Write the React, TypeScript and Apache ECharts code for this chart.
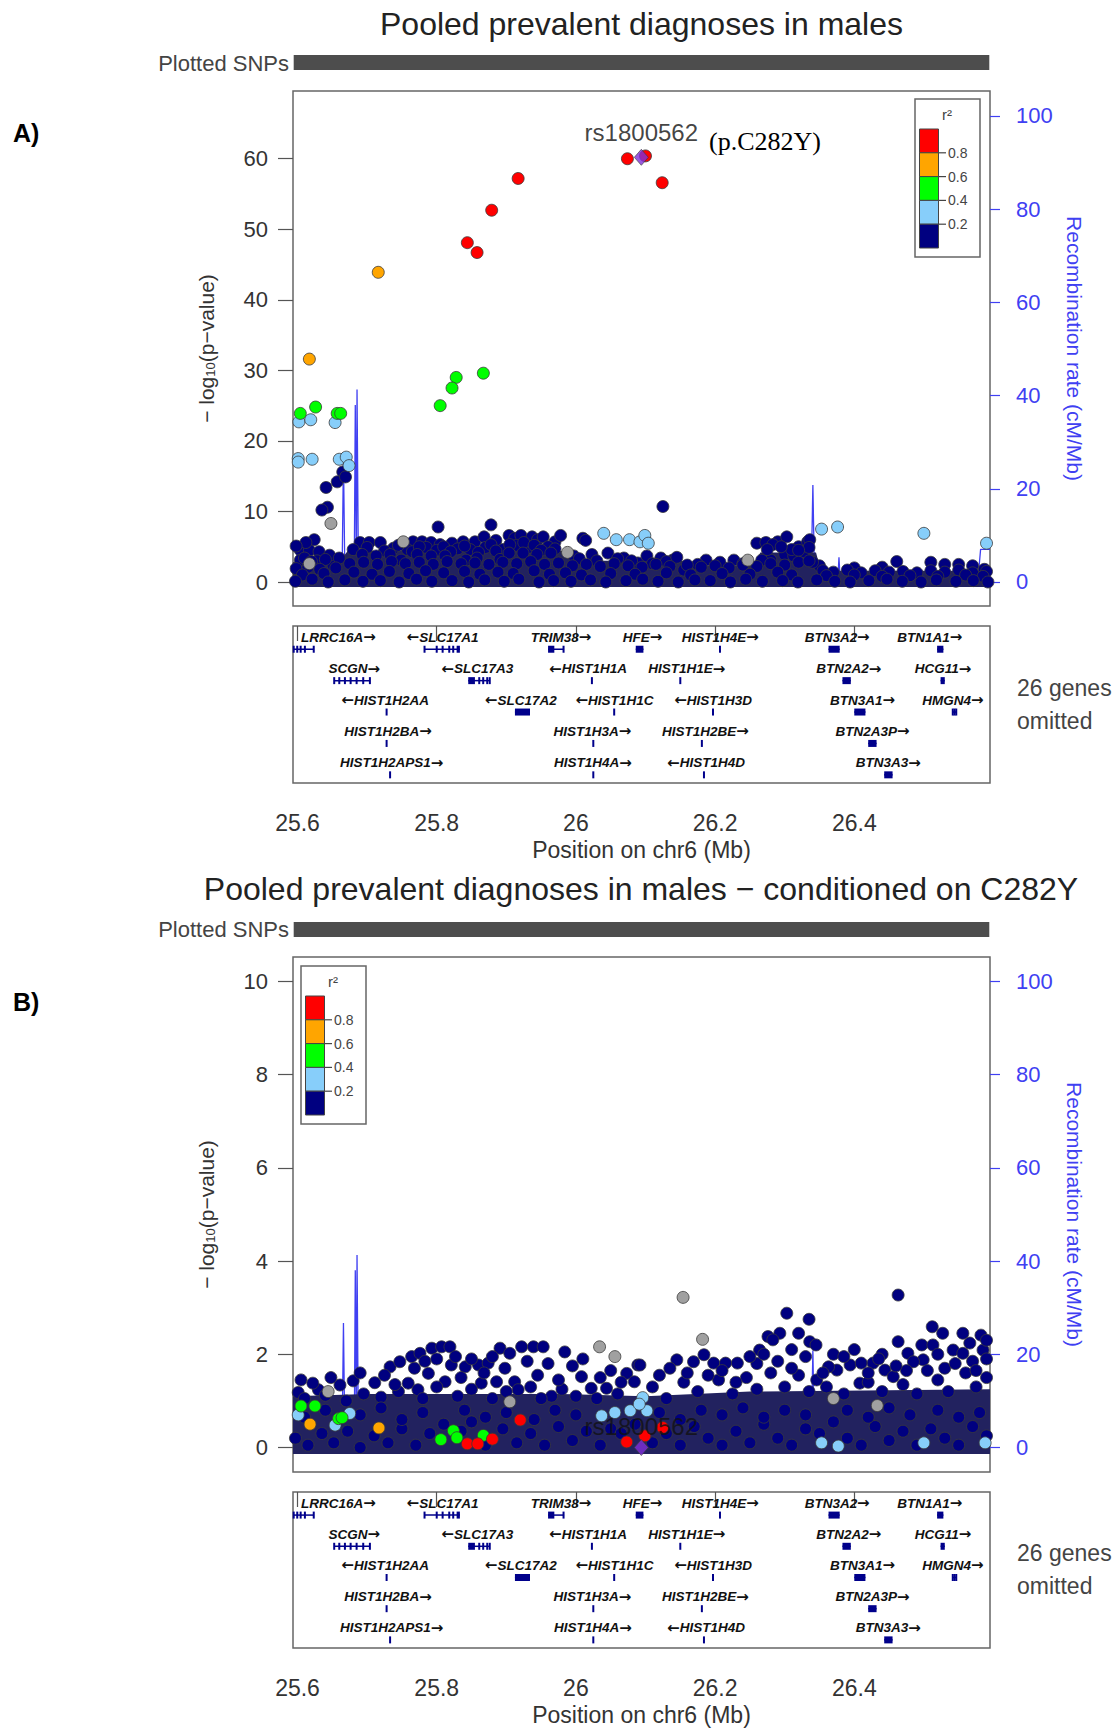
import React, { useEffect, useRef } from "react";
import * as echarts from "echarts";

// ---------------- region, ticks, legend ----------------
const regionStart = 25.5935;
const regionEnd = 26.595;
const snpRange = [25.5945, 26.594];
const xTicks = [25.6, 25.8, 26, 26.2, 26.4];
const yTicksA = [0, 10, 20, 30, 40, 50, 60];
const yTicksB = [0, 2, 4, 6, 8, 10];
const recombTicks = [0, 20, 40, 60, 80, 100];
const legendLabels = ["0.8", "0.6", "0.4", "0.2"];
const ldColors = ["#FF0000", "#FFA500", "#00FF00", "#87CEFA", "#000080"];
const leadName = "rs1800562";

// ---------------- recombination rate (cM/Mb) ----------------
const recombPos = [25.5935, 25.6, 25.612, 25.625, 25.64, 25.6455, 25.647, 25.6485, 25.658, 25.664, 25.666, 25.668, 25.676, 25.6815, 25.683, 25.6845, 25.6855, 25.6875, 25.7, 25.74, 25.78, 25.8, 25.83, 25.86, 25.9, 25.95, 26.0, 26.05, 26.1, 26.15, 26.2, 26.25, 26.27, 26.3, 26.33, 26.3385, 26.3405, 26.3425, 26.35, 26.37, 26.3765, 26.378, 26.3795, 26.42, 26.46, 26.5, 26.55, 26.578, 26.5815, 26.595];
const recombRate = [0.6, 0.8, 1.2, 0.8, 1.0, 1.2, 4.3, 1.0, 1.1, 1.5, 26.7, 1.6, 0.9, 1.8, 38.0, 2.0, 41.3, 1.5, 0.7, 0.5, 0.6, 0.4, 0.5, 0.8, 0.4, 0.3, 0.4, 0.6, 0.3, 0.5, 0.4, 0.6, 1.4, 0.8, 1.5, 4.5, 20.8, 3.8, 1.2, 0.8, 1.0, 5.3, 0.9, 0.5, 0.8, 0.5, 0.7, 1.1, 7.0, 7.0];

// ---------------- Panel A: -log10(p) ----------------
const aLead = [[26.094, 60.2]];
const aRed = [[26.074, 60.0], [26.1, 60.4], [26.124, 56.6], [25.917, 57.2], [25.879, 52.7], [25.844, 48.1], [25.858, 46.7]];
const aOrange = [[25.716, 43.9], [25.617, 31.6]];
const aGreen = [[25.867, 29.6], [25.828, 29.0], [25.822, 27.5], [25.805, 25.0], [25.604, 23.9], [25.626, 24.8], [25.657, 23.9], [25.662, 23.9]];
const aLightBlue = [[25.602, 22.7], [25.619, 23.0], [25.654, 22.6], [25.601, 17.5], [25.601, 17.0], [25.621, 17.4], [25.66, 17.4], [25.67, 17.7], [25.674, 16.5], [26.04, 6.9], [26.058, 6.0], [26.077, 6.0], [26.092, 5.7], [26.099, 6.6], [26.104, 5.5], [26.353, 7.5], [26.376, 7.8], [26.5, 6.9], [26.59, 5.5]];
const aGray = [[25.648, 8.3], [25.617, 2.6], [25.752, 5.7], [25.988, 4.2], [26.247, 3.1]];
const aNavy = [
  [25.665, 15.6], [25.657, 14.2], [25.669, 14.9], [25.641, 13.4], [25.643, 10.6], [25.635, 10.2],
  [25.604, 4.5], [25.604, 3.1], [25.624, 6.0], [25.617, 4.5], [25.631, 4.3], [25.651, 2.4], [25.612, 5.6], [25.646, 3.8], [25.598, 5.1], [25.628, 3.0], [25.66, 3.4],
  [25.69, 5.6], [25.703, 5.6], [25.719, 5.6], [25.766, 5.7], [25.779, 5.7], [25.792, 5.6], [25.805, 5.3], [25.822, 5.5], [25.838, 5.7], [25.855, 5.7], [25.868, 6.4], [25.885, 5.9], [25.904, 6.6], [25.912, 6.2], [25.921, 6.6], [25.937, 6.4], [25.945, 6.0], [25.953, 6.4], [25.97, 5.7], [25.978, 6.6],
  [25.802, 7.8], [25.878, 8.1],
  [25.738, 4.8], [25.758, 4.6], [25.785, 4.9], [25.8, 4.5], [25.83, 4.7], [25.848, 4.6], [25.87, 4.9], [25.895, 4.6], [25.915, 5.2], [25.93, 4.8], [25.96, 5.0],
  [25.68, 4.6], [25.7, 4.9], [25.725, 4.4], [25.745, 5.2], [25.765, 4.3], [25.775, 5.0], [25.81, 5.0], [25.82, 4.3], [25.84, 5.1], [25.86, 4.2], [25.878, 5.3], [25.885, 4.4], [25.905, 5.3], [25.925, 5.6], [25.94, 5.2], [25.95, 4.5], [25.97, 4.7],
  [25.693, 3.9], [25.713, 3.7], [25.733, 3.9], [25.749, 3.1], [25.772, 3.9], [25.792, 3.7], [25.812, 3.7], [25.842, 3.1], [25.858, 3.4], [25.891, 3.2], [25.904, 4.1], [25.924, 4.1], [25.944, 3.9], [25.964, 4.1],
  [26.01, 6.2], [26.014, 5.9], [25.997, 3.7], [26.023, 3.9], [26.046, 4.1], [26.069, 3.4], [26.089, 2.7], [26.102, 3.7], [26.122, 3.4], [26.139, 3.1], [26.155, 1.7], [26.125, 10.7], [26.03, 3.0], [26.058, 2.9], [26.11, 2.6],
  [26.005, 3.3], [26.06, 3.3], [26.08, 3.0], [26.13, 2.9], [26.145, 3.5], [26.35, 2.3], [25.61, 3.4], [25.64, 3.2], [25.62, 2.9],
  [26.187, 3.1], [26.207, 2.8], [26.227, 3.1], [26.175, 2.5], [26.24, 2.6],
  [26.26, 5.5], [26.273, 5.6], [26.29, 5.7], [26.303, 6.4], [26.32, 5.0], [26.333, 5.7], [26.336, 6.0], [26.34, 2.8], [26.3, 3.9], [26.327, 4.3], [26.313, 3.7], [26.28, 3.1], [26.267, 3.1], [26.283, 5.3], [26.31, 4.6], [26.335, 4.9], [26.275, 4.6], [26.295, 5.0], [26.32, 4.5],
  [26.461, 2.9], [26.51, 2.8], [26.53, 2.5], [26.55, 2.5], [26.57, 2.3], [26.587, 1.8], [26.44, 2.1], [26.4, 2.0],
  [25.598, 1.9], [25.615, 2.1], [25.632, 1.8], [25.655, 2.0], [25.675, 2.6], [25.695, 2.8], [25.715, 2.5], [25.735, 2.9], [25.755, 2.6], [25.775, 2.8], [25.795, 2.5], [25.815, 2.9], [25.835, 2.6], [25.855, 2.7], [25.875, 2.5], [25.895, 2.8], [25.915, 2.6], [25.935, 2.9], [25.955, 2.5], [25.975, 2.7], [25.995, 2.3], [26.015, 2.5], [26.035, 2.2], [26.055, 2.6], [26.075, 2.3], [26.095, 2.1], [26.115, 2.5], [26.135, 2.2], [26.16, 2.4], [26.18, 2.1], [26.2, 2.3], [26.22, 2.0], [26.24, 2.4], [26.26, 2.2], [26.28, 2.6], [26.3, 2.4], [26.32, 2.8], [26.335, 3.0], [26.355, 1.6], [26.37, 1.4], [26.39, 1.7], [26.41, 1.3], [26.43, 1.6], [26.45, 1.4], [26.47, 1.5], [26.49, 1.3], [26.51, 1.6], [26.53, 1.4], [26.55, 1.7], [26.57, 1.3], [26.59, 1.5],
  [25.607, 1.0], [25.638, 1.2], [25.681, 1.4], [25.707, 1.1], [25.732, 1.5], [25.76, 1.2], [25.784, 1.6], [25.81, 1.3], [25.84, 1.5], [25.862, 1.1], [25.888, 1.4], [25.91, 1.2], [25.94, 1.6], [25.962, 1.1], [25.985, 1.3], [26.008, 1.0], [26.05, 1.2], [26.085, 1.1], [26.13, 1.3], [26.165, 1.0], [26.21, 1.2], [26.25, 1.1], [26.29, 1.4], [26.31, 1.0], [26.36, 0.9], [26.4, 1.0], [26.44, 0.8], [26.48, 0.9], [26.52, 0.8], [26.56, 1.0], [26.585, 0.8],
  [25.597, 0.1], [25.621, 0.4], [25.644, 0.0], [25.668, 0.3], [25.694, 0.1], [25.719, 0.2], [25.746, 0.0], [25.771, 0.4], [25.793, 0.1], [25.822, 0.2], [25.846, 0.0], [25.869, 0.3], [25.897, 0.1], [25.918, 0.4], [25.947, 0.0], [25.968, 0.2], [25.993, 0.1], [26.021, 0.3], [26.043, 0.0], [26.072, 0.2], [26.096, 0.4], [26.118, 0.1], [26.147, 0.0], [26.171, 0.3], [26.193, 0.2], [26.222, 0.0], [26.244, 0.4], [26.268, 0.1], [26.297, 0.2], [26.319, 0.0], [26.346, 0.3], [26.372, 0.1], [26.394, 0.0], [26.421, 0.2], [26.447, 0.4], [26.469, 0.1], [26.496, 0.0], [26.518, 0.3], [26.546, 0.1], [26.571, 0.2], [26.592, 0.0],
];
// overplotted SNP mass (upper edge of the solid band)
const aMassPos = [25.5935, 25.66, 25.672, 25.98, 25.995, 26.16, 26.17, 26.255, 26.265, 26.345, 26.352, 26.595];
const aMassTop = [2.8, 2.8, 4.4, 4.4, 3.0, 3.0, 2.3, 2.3, 4.2, 4.2, 1.6, 1.6];
const aMassBottom = -0.7;

// ---------------- Panel B: conditioned on C282Y ----------------
const bLead = [[26.094, 0.0]];
const bRed = [[25.92, 0.59], [25.844, 0.08], [25.859, 0.08], [25.88, 0.18], [26.073, 0.12], [26.099, 0.25], [26.1245, 0.43]];
const bOrange = [[25.618, 0.5], [25.717, 0.42]];
const bGreen = [[25.605, 0.89], [25.625, 0.89], [25.659, 0.62], [25.664, 0.64], [25.806, 0.17], [25.824, 0.36], [25.829, 0.21], [25.867, 0.26]];
const bLightBlue = [[25.601, 0.7], [25.654, 0.48], [25.675, 0.73], [26.037, 0.68], [26.056, 0.75], [26.078, 0.79], [26.102, 0.79], [26.096, 1.07], [26.091, 0.93], [26.353, 0.1], [26.377, 0.03], [26.5, 0.1], [26.588, 0.1]];
const bGray = [[26.154, 3.22], [26.182, 2.32], [26.034, 2.16], [26.056, 1.95], [25.905, 0.98], [25.644, 1.2], [26.433, 0.9], [26.37, 1.05]];
const bNavy = [
  [25.601, 1.18], [25.63, 1.24], [25.661, 1.34], [25.68, 1.43], [25.711, 1.39], [25.733, 1.73], [25.747, 1.84], [25.764, 1.95], [25.776, 2.02], [25.793, 2.13], [25.807, 2.16], [25.819, 2.16], [25.788, 1.59], [25.821, 1.77], [25.841, 1.73], [25.86, 1.77], [25.874, 1.81], [25.891, 2.13], [25.905, 2.02], [25.922, 2.16], [25.939, 2.16], [25.953, 2.16], [25.984, 2.05], [25.759, 1.38], [25.773, 1.24], [25.812, 1.41], [25.864, 1.38], [25.886, 1.41], [25.912, 1.41], [25.917, 1.24], [25.965, 1.1], [26.008, 1.52], [26.022, 1.27], [26.044, 1.27], [26.073, 1.59], [26.089, 1.77], [26.084, 1.41],
  [26.463, 3.27], [26.303, 2.88], [26.335, 2.75], [26.276, 2.38], [26.293, 2.45], [26.336, 2.27], [26.512, 2.59], [26.527, 2.45], [26.556, 2.45], [26.582, 2.41], [26.497, 2.2], [26.463, 2.27], [26.477, 2.02], [26.499, 1.88], [26.513, 2.2], [26.542, 2.09], [26.566, 2.24], [26.585, 2.09], [26.556, 2.02], [26.264, 2.09], [26.283, 2.31], [26.145, 1.88], [26.169, 1.84], [26.184, 1.99], [26.198, 1.81], [26.215, 1.81], [26.232, 1.81], [26.092, 1.77], [26.375, 1.66], [26.394, 1.77], [26.41, 1.81], [26.427, 1.81], [26.444, 1.66], [26.408, 1.38], [26.456, 1.52], [26.485, 1.84], [26.363, 1.73], [26.346, 1.45],
  [25.61, 1.05], [25.64, 1.12], [25.67, 1.0], [25.695, 1.15], [25.72, 1.08], [25.745, 1.2], [25.78, 1.05], [25.8, 1.3], [25.83, 1.1], [25.85, 1.25], [25.88, 1.05], [25.9, 1.2], [25.935, 1.3], [25.95, 1.05], [25.98, 1.25], [26.0, 1.1], [26.03, 1.05], [26.06, 1.15], [26.11, 1.3], [26.13, 1.05], [26.155, 1.4], [26.175, 1.2], [26.205, 1.45], [26.225, 1.15], [26.245, 1.5], [26.26, 1.25], [26.28, 1.6], [26.3, 1.3], [26.32, 1.55], [26.335, 1.2], [26.36, 1.3], [26.385, 1.15], [26.42, 1.4], [26.44, 1.2], [26.47, 1.35], [26.49, 1.15], [26.52, 1.45], [26.535, 1.2], [26.56, 1.6], [26.575, 1.3], [26.59, 1.5],
  [26.26, 1.8], [26.31, 2.1], [26.32, 2.45], [26.345, 2.2], [26.53, 1.7], [26.57, 1.85], [26.59, 2.3], [26.475, 1.65], [26.44, 2.0], [26.4, 2.1], [26.37, 2.0],
  [25.605, 1.45], [25.622, 1.38], [25.648, 1.5], [25.69, 1.6], [25.725, 1.55], [25.74, 1.35], [25.768, 1.7], [25.783, 1.85], [25.8, 1.9], [25.827, 1.95], [25.835, 1.5], [25.85, 1.9], [25.868, 1.6], [25.88, 1.95], [25.898, 1.7], [25.93, 1.85], [25.945, 1.55], [25.96, 1.8], [25.975, 1.45], [25.995, 1.75], [26.01, 1.9], [26.035, 1.5], [26.05, 1.65], [26.065, 1.4], [26.12, 1.55], [26.135, 1.7], [26.16, 1.6], [26.19, 1.55], [26.21, 1.65], [26.23, 1.4], [26.25, 1.95], [26.27, 2.0], [26.29, 1.85], [26.31, 1.7], [26.33, 1.95], [26.355, 1.6], [26.385, 1.95], [26.42, 1.6], [26.435, 1.9], [26.46, 1.75], [26.505, 1.65], [26.52, 2.0], [26.545, 1.8], [26.575, 1.65], [26.59, 1.9],
  [25.597, 0.2], [25.615, 0.05], [25.635, 0.3], [25.652, 0.1], [25.672, 0.35], [25.69, 0.0], [25.71, 0.25], [25.73, 0.1], [25.75, 0.4], [25.77, 0.05], [25.79, 0.3], [25.81, 0.5], [25.835, 0.35], [25.85, 0.55], [25.87, 0.05], [25.895, 0.4], [25.915, 0.1], [25.935, 0.3], [25.955, 0.05], [25.975, 0.45], [25.995, 0.15], [26.015, 0.35], [26.035, 0.05], [26.05, 0.4], [26.065, 0.3], [26.085, 0.5], [26.11, 0.1], [26.13, 0.3], [26.15, 0.05], [26.17, 0.45], [26.19, 0.2], [26.21, 0.05], [26.23, 0.35], [26.25, 0.1], [26.27, 0.5], [26.29, 0.2], [26.31, 0.05], [26.33, 0.4], [26.35, 0.3], [26.37, 0.55], [26.39, 0.2], [26.41, 0.05], [26.43, 0.45], [26.45, 0.15], [26.47, 0.35], [26.49, 0.05], [26.51, 0.4], [26.53, 0.2], [26.55, 0.05], [26.57, 0.45], [26.59, 0.25],
  [25.61, 0.65], [25.64, 0.8], [25.69, 0.7], [25.72, 0.85], [25.75, 0.6], [25.78, 0.75], [25.84, 0.8], [25.87, 0.65], [25.9, 0.75], [25.94, 0.6], [25.97, 0.8], [26.0, 0.7], [26.12, 0.75], [26.15, 0.6], [26.18, 0.8], [26.21, 0.7], [26.24, 0.85], [26.27, 0.65], [26.3, 0.8], [26.33, 0.7], [26.39, 0.8], [26.42, 0.65], [26.45, 0.85], [26.48, 0.7], [26.52, 0.8], [26.55, 0.65], [26.58, 0.75],
];
const bMassPos = [25.5935, 25.7, 25.98, 26.1, 26.25, 26.595];
const bMassTop = [1.1, 1.15, 1.15, 1.1, 1.2, 1.25];
const bMassBottom = -0.14;

// ---------------- genes ----------------
const geneNames = ["LRRC16A", "SLC17A1", "TRIM38", "HFE", "HIST1H4E", "BTN3A2", "BTN1A1",
  "SCGN", "SLC17A3", "HIST1H1A", "HIST1H1E", "BTN2A2", "HCG11",
  "HIST1H2AA", "SLC17A2", "HIST1H1C", "HIST1H3D", "BTN3A1", "HMGN4",
  "HIST1H2BA", "HIST1H3A", "HIST1H2BE", "BTN2A3P",
  "HIST1H2APS1", "HIST1H4A", "HIST1H4D", "BTN3A3"];
const geneStrand = [1, -1, 1, 1, 1, 1, 1, 1, -1, -1, 1, 1, 1, -1, -1, -1, -1, 1, 1, 1, 1, 1, 1, 1, 1, -1, 1];
const geneRow = [0, 0, 0, 0, 0, 0, 0, 1, 1, 1, 1, 1, 1, 2, 2, 2, 2, 2, 2, 3, 3, 3, 3, 4, 4, 4, 4];
const geneStart = [25.594, 25.782, 25.96, 26.086, 26.2065, 26.363, 26.519, 25.6527, 25.8453, 26.0225, 26.1495, 26.383, 26.524, 25.7275, 25.9124, 26.0545, 26.1965, 26.4, 26.541, 25.7275, 26.0245, 26.1805, 26.42, 25.7325, 26.0245, 26.1835, 26.443];
const geneEnd = [25.6236, 25.8333, 25.983, 26.097, 26.2075, 26.379, 26.528, 25.704, 25.8764, 26.0235, 26.1505, 26.395, 26.53, 25.7285, 25.934, 26.0555, 26.1975, 26.416, 26.547, 25.7285, 26.0255, 26.1815, 26.432, 25.7335, 26.0255, 26.1845, 26.455];
const geneLabelPos = [25.6586, 25.8083, 25.9786, 26.0958, 26.2075, 26.3754, 26.5084, 25.6816, 25.8582, 26.0174, 26.1592, 26.392, 26.5274, 25.7259, 25.9208, 26.0554, 26.1972, 26.4118, 26.5417, 25.7299, 26.0237, 26.1861, 26.4261, 25.7354, 26.0245, 26.1869, 26.449];
const geneExons = [
  [[25.594, 25.595], [25.5991, 25.6001], [25.604, 25.605], [25.6101, 25.6111], [25.6228, 25.6238]],
  [[25.782, 25.783], [25.7995, 25.8005], [25.808, 25.809], [25.8175, 25.8185], [25.8232, 25.8242], [25.8286, 25.8333]],
  [[25.96, 25.969], [25.9815, 25.983]],
  [[26.086, 26.097]],
  [[26.2065, 26.2075]],
  [[26.363, 26.379]],
  [[26.519, 26.528]],
  [[25.6522, 25.6532], [25.6595, 25.6605], [25.6676, 25.6686], [25.6758, 25.6768], [25.6844, 25.6854], [25.6939, 25.6949], [25.7035, 25.7045]],
  [[25.8453, 25.8549], [25.8606, 25.8616], [25.8663, 25.8673], [25.8721, 25.8731], [25.8757, 25.8767]],
  [[26.0225, 26.0235]],
  [[26.1495, 26.1505]],
  [[26.383, 26.395]],
  [[26.524, 26.53]],
  [[25.7275, 25.7285]],
  [[25.9124, 25.934]],
  [[26.0545, 26.0555]],
  [[26.1965, 26.1975]],
  [[26.4, 26.416]],
  [[26.541, 26.542], [26.5435, 26.5445], [26.546, 26.547]],
  [[25.7275, 25.7285]],
  [[26.0245, 26.0255]],
  [[26.1805, 26.1815]],
  [[26.42, 26.432]],
  [[25.7325, 25.7335]],
  [[26.0245, 26.0255]],
  [[26.1835, 26.1845]],
  [[26.443, 26.455]],
];
const omittedGenes = 26;

// ---------------- styles ----------------
const FONT = '"Liberation Sans", Arial, Helvetica, sans-serif';
const SERIF = '"Liberation Serif", "Times New Roman", serif';
const ARROWFONT = '"DejaVu Sans", sans-serif';
const BOX = "#666666";
const TXT = "#333333";
const BLUE = "#4040f2";
const GENE = "#00008B";
const MASS = "#22225f";
const LEAD = "#8030D8";

function hiddenAxis(gridIndex: number, min: number, max: number, inverse = false) {
  return { type: "value", gridIndex, min, max, inverse, show: false };
}

function posAxis(gridIndex: number) {
  return {
    type: "value", gridIndex, min: regionStart, max: regionEnd,
    axisLine: { show: false }, splitLine: { show: false },
    axisTick: { show: true, customValues: xTicks, length: 15, lineStyle: { color: "#555", width: 1.2 } },
    axisLabel: { customValues: xTicks, fontSize: 23, color: TXT, margin: 28, fontFamily: FONT },
    name: "Position on chr6 (Mb)", nameLocation: "middle", nameGap: 55,
    nameTextStyle: { fontSize: 23, color: TXT, fontFamily: FONT },
  };
}

function pAxis(gridIndex: number, min: number, max: number, ticks: number[]) {
  return {
    type: "value", gridIndex, min, max, position: "left",
    axisLine: { show: false }, splitLine: { show: false },
    axisTick: { show: true, customValues: ticks, length: 15, lineStyle: { color: "#555", width: 1.2 } },
    axisLabel: { customValues: ticks, fontSize: 22, color: TXT, margin: 25, fontFamily: FONT },
    name: "\u2212 log{sub|10}(p\u2212value)", nameLocation: "middle", nameRotate: 90, nameGap: 76,
    nameTextStyle: { fontSize: 21, color: TXT, fontFamily: FONT, rich: { sub: { fontSize: 13, color: TXT, fontFamily: FONT, padding: [9, 0, 0, 0] } } },
  };
}

function recombAxis(gridIndex: number, min: number, max: number) {
  return {
    type: "value", gridIndex, min, max, position: "right",
    axisLine: { show: false }, splitLine: { show: false },
    axisTick: { show: true, customValues: recombTicks, length: 10, lineStyle: { color: BLUE, width: 1.2 } },
    axisLabel: { customValues: recombTicks, fontSize: 22, color: BLUE, margin: 26, fontFamily: FONT },
    name: "Recombination rate (cM/Mb)", nameLocation: "middle", nameRotate: -90, nameGap: 68,
    nameTextStyle: { fontSize: 21, color: BLUE, fontFamily: FONT },
  };
}

function dots(xi: number, yi: number, data: number[][], color: string, z: number) {
  return {
    type: "scatter", xAxisIndex: xi, yAxisIndex: yi, data, symbol: "circle", symbolSize: 12, z, silent: true,
    itemStyle: { color, borderColor: "#3a3a3a", borderWidth: 0.8, opacity: 1 },
  };
}

function massSeries(xi: number, yi: number, xs: number[], tops: number[], bottom: number) {
  return {
    type: "custom", xAxisIndex: xi, yAxisIndex: yi, silent: true, z: 1,
    data: [[xs[0], bottom]],
    renderItem: (_p: any, api: any) => {
      const pts: number[][] = xs.map((x, i) => api.coord([x, tops[i]]));
      for (let i = xs.length - 1; i >= 0; i--) pts.push(api.coord([xs[i], bottom]));
      return { type: "polygon", shape: { points: pts }, style: { fill: MASS } };
    },
  };
}

function recombSeries(xi: number, yi: number) {
  return {
    type: "line", xAxisIndex: xi, yAxisIndex: yi, silent: true, z: 0,
    data: recombPos.map((p, i) => [p, recombRate[i]]),
    showSymbol: false, symbol: "none",
    lineStyle: { color: BLUE, width: 1.3 },
  };
}

function leadSeries(xi: number, yi: number, data: number[][], dist: number) {
  return {
    type: "scatter", xAxisIndex: xi, yAxisIndex: yi, data, symbol: "diamond", symbolSize: [14, 16], z: 8, silent: true,
    itemStyle: { color: LEAD, borderColor: "#3a3a3a", borderWidth: 0.8 },
    label: { show: true, position: "top", distance: dist, formatter: leadName, fontSize: 24, color: "#111", fontFamily: FONT },
  };
}

function snpBarSeries(xi: number, yi: number) {
  return {
    type: "custom", xAxisIndex: xi, yAxisIndex: yi, silent: true,
    data: [[snpRange[0], snpRange[1]]],
    encode: { x: [0, 1] },
    renderItem: (_p: any, api: any) => {
      const a = api.coord([api.value(0), 1]);
      const b = api.coord([api.value(1), 0]);
      return { type: "rect", shape: { x: a[0], y: a[1], width: b[0] - a[0], height: b[1] - a[1] }, style: { fill: "#4d4d4d" } };
    },
  };
}

function geneSeries(xi: number, yi: number) {
  return {
    type: "custom", xAxisIndex: xi, yAxisIndex: yi, silent: true, z: 3,
    data: geneNames.map((_n, i) => [geneStart[i], geneEnd[i], geneRow[i], i]),
    encode: { x: [0, 1], y: 2 },
    renderItem: (_p: any, api: any) => {
      const i = api.value(3);
      const row = api.value(2);
      const y = api.coord([geneStart[i], row + 0.74])[1];
      const x0 = api.coord([geneStart[i], 0])[0];
      const x1 = api.coord([geneEnd[i], 0])[0];
      const children: any[] = [];
      if (x1 - x0 > 4) {
        children.push({ type: "line", shape: { x1: x0, y1: y, x2: x1, y2: y }, style: { stroke: GENE, lineWidth: 1.5 } });
      }
      for (const ex of geneExons[i]) {
        const a = api.coord([ex[0], 0])[0];
        const b = api.coord([ex[1], 0])[0];
        const w = Math.max(b - a, 2);
        children.push({ type: "rect", shape: { x: (a + b) / 2 - w / 2, y: y - 3.5, width: w, height: 7 }, style: { fill: GENE } });
      }
      const lx = api.coord([geneLabelPos[i], 0])[0];
      const t = geneStrand[i] > 0 ? "{n|" + geneNames[i] + "}{a|\u2192}" : "{a|\u2190}{n|" + geneNames[i] + "}";
      children.push({
        type: "text", x: lx, y: y - 12,
        style: {
          text: t, align: "center", verticalAlign: "middle",
          rich: {
            n: { fill: "#111", fontStyle: "italic", fontWeight: "bold", fontSize: 13.5, fontFamily: FONT },
            a: { fill: "#111", fontWeight: "bold", fontSize: 15, fontFamily: ARROWFONT },
          },
        },
      });
      return { type: "group", children };
    },
  };
}

function legendGroup(x0: number, y0: number) {
  const children: any[] = [
    { type: "rect", shape: { x: x0, y: y0, width: 65, height: 158 }, style: { fill: "#fff", stroke: BOX, lineWidth: 1.5 } },
    { type: "text", x: x0 + 32, y: y0 + 15, style: { text: "r\u00B2", fill: "#444", fontSize: 15, fontFamily: FONT, align: "center", verticalAlign: "middle" } },
  ];
  const sq = 23.8;
  ldColors.forEach((c, i) => {
    children.push({ type: "rect", shape: { x: x0 + 4.5, y: y0 + 30 + i * sq, width: 19, height: sq }, style: { fill: c, stroke: "#444", lineWidth: 1 } });
  });
  legendLabels.forEach((l, i) => {
    const yy = y0 + 30 + (i + 1) * sq;
    children.push({ type: "line", shape: { x1: x0 + 23.5, y1: yy, x2: x0 + 31, y2: yy }, style: { stroke: "#444", lineWidth: 1.2 } });
    children.push({ type: "text", x: x0 + 33, y: yy, style: { text: l, fill: "#444", fontSize: 14, fontFamily: FONT, align: "left", verticalAlign: "middle" } });
  });
  return { type: "group", children, z: 50 };
}

function txt(x: number, y: number, text: string, size: number, opts: any = {}) {
  return {
    type: "text", x, y, z: 50,
    style: { text, fontSize: size, fontFamily: FONT, fill: TXT, align: "center", verticalAlign: "middle", ...opts },
  };
}

export default function App() {
  const ref = useRef<HTMLDivElement>(null);
  useEffect(() => {
    if (!ref.current) return;
    const chart = echarts.init(ref.current, null, { renderer: "svg" });
    const gridBox = { show: true, borderColor: BOX, borderWidth: 1.5, backgroundColor: "transparent", containLabel: false };
    const option: any = {
      animation: false,
      backgroundColor: "#ffffff",
      textStyle: { fontFamily: FONT },
      grid: [
        { left: 293, top: 55, width: 697, height: 15, show: false },
        { left: 293, top: 91, width: 697, height: 515, ...gridBox },
        { left: 293, top: 626, width: 697, height: 157, ...gridBox },
        { left: 293, top: 922, width: 697, height: 15, show: false },
        { left: 293, top: 957, width: 697, height: 515, ...gridBox },
        { left: 293, top: 1492, width: 697, height: 156, ...gridBox },
      ],
      xAxis: [
        hiddenAxis(0, regionStart, regionEnd),
        hiddenAxis(1, regionStart, regionEnd),
        posAxis(2),
        hiddenAxis(3, regionStart, regionEnd),
        hiddenAxis(4, regionStart, regionEnd),
        posAxis(5),
      ],
      yAxis: [
        hiddenAxis(0, 0, 1),
        pAxis(1, -3.4, 69.6, yTicksA),
        recombAxis(1, -5.15, 105.36),
        hiddenAxis(2, 0, 5, true),
        hiddenAxis(3, 0, 1),
        pAxis(4, -0.525, 10.52, yTicksB),
        recombAxis(4, -5.25, 105.2),
        hiddenAxis(5, 0, 5, true),
      ],
      series: [
        snpBarSeries(0, 0),
        recombSeries(1, 2),
        massSeries(1, 1, aMassPos, aMassTop, aMassBottom),
        dots(1, 1, aNavy, ldColors[4], 2),
        dots(1, 1, aGray, "#A0A0A0", 3),
        dots(1, 1, aLightBlue, ldColors[3], 4),
        dots(1, 1, aGreen, ldColors[2], 5),
        dots(1, 1, aOrange, ldColors[1], 6),
        dots(1, 1, aRed, ldColors[0], 7),
        leadSeries(1, 1, aLead, 4),
        geneSeries(2, 3),
        snpBarSeries(3, 4),
        recombSeries(4, 6),
        massSeries(4, 5, bMassPos, bMassTop, bMassBottom),
        dots(4, 5, bNavy, ldColors[4], 2),
        dots(4, 5, bGray, "#A0A0A0", 3),
        dots(4, 5, bLightBlue, ldColors[3], 4),
        dots(4, 5, bGreen, ldColors[2], 5),
        dots(4, 5, bOrange, ldColors[1], 6),
        dots(4, 5, bRed, ldColors[0], 7),
        leadSeries(4, 5, bLead, 1),
        geneSeries(5, 7),
      ],
      graphic: [
        txt(641.5, 24, "Pooled prevalent diagnoses in males", 32, { fill: "#222" }),
        txt(289, 63, "Plotted SNPs", 22, { align: "right", fill: "#444" }),
        txt(13, 133, "A)", 25, { align: "left", fill: "#000", fontWeight: "bold" }),
        txt(709, 141, "(p.C282Y)", 26, { align: "left", fill: "#000", fontFamily: SERIF }),
        legendGroup(915, 99),
        txt(1017, 688, omittedGenes + " genes", 23, { align: "left", fill: "#444" }),
        txt(1017, 721, "omitted", 23, { align: "left", fill: "#444" }),
        txt(641, 889, "Pooled prevalent diagnoses in males \u2212 conditioned on C282Y", 32, { fill: "#222" }),
        txt(289, 929, "Plotted SNPs", 22, { align: "right", fill: "#444" }),
        txt(13, 1002, "B)", 25, { align: "left", fill: "#000", fontWeight: "bold" }),
        legendGroup(301, 966),
        txt(1017, 1553, omittedGenes + " genes", 23, { align: "left", fill: "#444" }),
        txt(1017, 1586, "omitted", 23, { align: "left", fill: "#444" }),
      ],
    };
    chart.setOption(option);
    return () => chart.dispose();
  }, []);
  return <div ref={ref} style={{ position: "absolute", left: 0, top: 0, width: 1120, height: 1729, background: "#fff" }} />;
}
